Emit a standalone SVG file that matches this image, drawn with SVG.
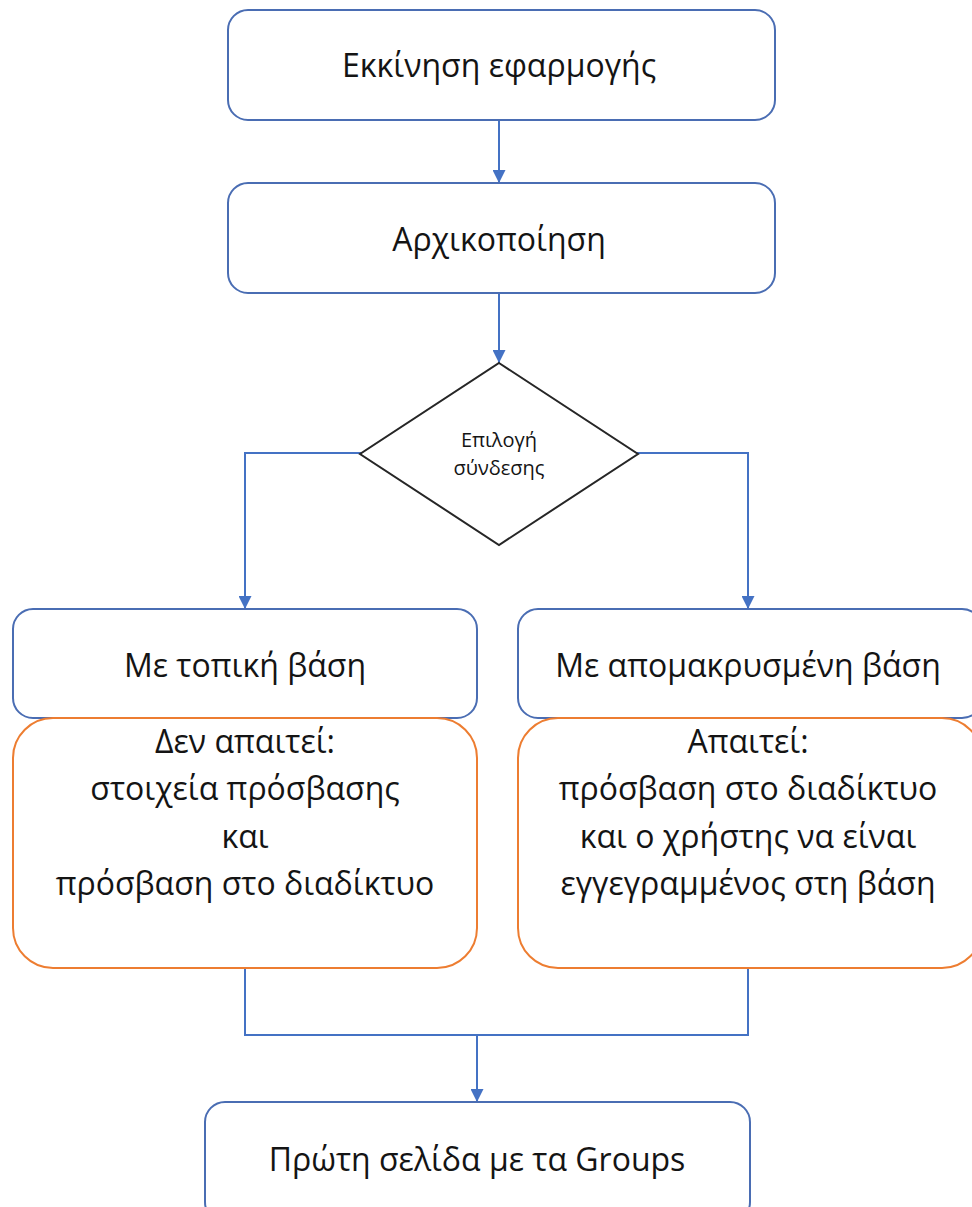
<svg xmlns="http://www.w3.org/2000/svg" width="972" height="1207" viewBox="0 0 972 1207">
  <defs>
    <marker id="arrow" viewBox="0 0 12 12" refX="12" refY="6" markerWidth="13" markerHeight="13" orient="auto" markerUnits="userSpaceOnUse">
      <path d="M0,0 L12,6 L0,12 Z" fill="#4472c4" />
    </marker>
    <style>
      .step { fill: #ffffff; stroke: #4a6db3; stroke-width: 2; }
      .note { fill: #ffffff; stroke: #ed7d31; stroke-width: 2; }
      .choice { fill: #ffffff; stroke: #262626; stroke-width: 2; }
      .link { fill: none; stroke: #4472c4; stroke-width: 2; }
      .label { font-family: "Open Sans", "Noto Sans", "DejaVu Sans", sans-serif; font-size: 32px; fill: #141414; text-anchor: middle; }
      .small { font-size: 20px; }
    </style>
  </defs>
  <rect width="972" height="1207" fill="#ffffff" />

  <g id="connectors">
    <line class="link" x1="499" y1="120" x2="499" y2="183" marker-end="url(#arrow)" />
    <line class="link" x1="499" y1="293" x2="499" y2="363" marker-end="url(#arrow)" />
    <polyline class="link" points="361,453 245,453 245,609" marker-end="url(#arrow)" />
    <polyline class="link" points="637,453 748,453 748,609" marker-end="url(#arrow)" />
    <polyline class="link" points="245,968 245,1035 748,1035 748,968" />
    <line class="link" x1="477" y1="1035" x2="477" y2="1102" marker-end="url(#arrow)" />
  </g>

  <g id="start">
    <rect class="step" x="228" y="10" width="547" height="110" rx="20" />
    <text class="label" x="499" y="77">Εκκίνηση εφαρμογής</text>
  </g>

  <g id="init">
    <rect class="step" x="228" y="183" width="547" height="110" rx="20" />
    <text class="label" x="499" y="251">Αρχικοποίηση</text>
  </g>

  <g id="connection-choice">
    <polygon class="choice" points="499,363 638,454 499,545 360,454" />
    <text class="label small" x="499" y="447">Επιλογή</text>
    <text class="label small" x="499" y="475">σύνδεσης</text>
  </g>

  <g id="local-db">
    <rect class="step" x="13" y="609" width="464" height="109" rx="20" />
    <text class="label" x="245" y="677">Με τοπική βάση</text>
  </g>

  <g id="local-db-note">
    <rect class="note" x="13" y="718" width="464" height="250" rx="40" />
    <text class="label" x="245" y="753">Δεν απαιτεί:</text>
    <text class="label" x="245" y="800">στοιχεία πρόσβασης</text>
    <text class="label" x="245" y="848">και</text>
    <text class="label" x="245" y="895">πρόσβαση στο διαδίκτυο</text>
  </g>

  <g id="remote-db">
    <rect class="step" x="518" y="609" width="464" height="109" rx="20" />
    <text class="label" x="748" y="677">Με απομακρυσμένη βάση</text>
  </g>

  <g id="remote-db-note">
    <rect class="note" x="518" y="718" width="464" height="250" rx="40" />
    <text class="label" x="748" y="753">Απαιτεί:</text>
    <text class="label" x="748" y="800">πρόσβαση στο διαδίκτυο</text>
    <text class="label" x="748" y="848">και ο χρήστης να είναι</text>
    <text class="label" x="748" y="895">εγγεγραμμένος στη βάση</text>
  </g>

  <g id="groups-page">
    <rect class="step" x="205" y="1102" width="545" height="120" rx="20" />
    <text class="label" x="477" y="1171">Πρώτη σελίδα με τα Groups</text>
  </g>
</svg>
